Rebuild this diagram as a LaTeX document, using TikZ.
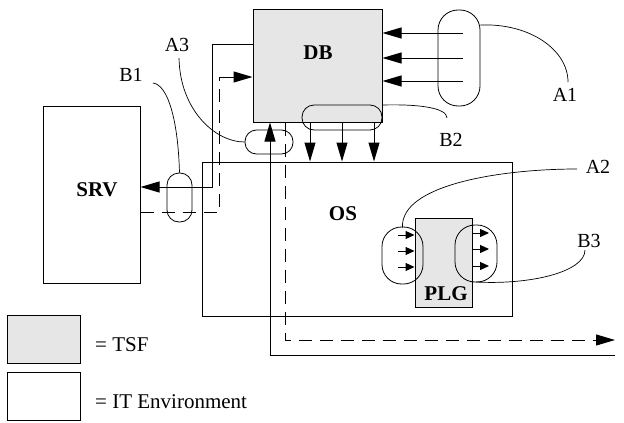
\documentclass[tikz,border=0pt]{standalone}
\usepackage{fontspec}
\setmainfont{Liberation Serif}
\usetikzlibrary{arrows.meta,calc}
\definecolor{tsfgray}{HTML}{E6E6E6}
\tikzset{
  box/.style={draw, line width=1pt, inner sep=0pt},
  tsfbox/.style={box, fill=tsfgray},
  pill/.style={draw, line width=0.8pt, inner sep=0pt},
  lbl/.style={font=\fontsize{20}{22}\selectfont, inner sep=0pt},
  blbl/.style={font=\fontsize{21}{23}\selectfont\bfseries, inner sep=0pt},
  conn/.style={line width=1pt},
  dconn/.style={line width=1pt, dash pattern=on 13pt off 8pt},
  arr/.style={-{Triangle[length=19pt,width=11pt]}},
  sarr/.style={-{Triangle[length=9pt,width=8pt]}},
  leader/.style={line width=0.7pt},
}
\begin{document}
\begin{tikzpicture}[x=1pt,y=-1pt]
\useasboundingbox (0,0) rectangle (624,423);
% boxes
\node[box, minimum width=310pt, minimum height=154pt] (os) at (357,239) {};
\node[tsfbox, minimum width=129pt, minimum height=113pt] (db) at (317.5,65.5) {};
\node[box, minimum width=97pt, minimum height=177pt] (srv) at (91.5,194.5) {};
\node[tsfbox, minimum width=57pt, minimum height=89pt] (plg) at (443.5,262.5) {};
\node[blbl] (dbl) at (318,53) {DB};
\node[blbl] (srvl) at (97,190) {SRV};
\node[blbl] (osl) at (343,214) {OS};
\node[blbl] (plgl) at (446,294) {PLG};
% legend
\node[tsfbox, minimum width=73pt, minimum height=48pt] (lt) at (43.5,339) {};
\node[box, minimum width=73pt, minimum height=48pt] (li) at (43.5,396) {};
\node[lbl, anchor=west, font=\fontsize{21}{23}\selectfont] (ltt) at (95,345) {= TSF};
\node[lbl, anchor=west, font=\fontsize{21}{23}\selectfont] (lit) at (95,402) {= IT Environment};
% connectors
\draw[conn, arr] (db.west |- 0,44) -- (212,44) -- (212,187) -- (srv.east |- 0,187);
\draw[dconn] (srv.east |- 0,212) -- (219,212) -- (219,77);
\draw[conn, arr] (219,77) -- (db.west |- 0,77);
\foreach \yy in {33,58,81} {
  \draw[conn, arr] (463,\yy) -- (db.east |- 0,\yy);
}
\foreach \xx in {310,342,374} {
  \draw[conn, arr] (db.south -| \xx,0) -- (os.north -| \xx,0);
}
\coordinate (outs) at (615,355);
\coordinate (outd) at (615,340);
\draw[conn, arr] (outs) -- (270,355) -- (db.south -| 270,0);
\draw[dconn, arr] (db.south -| 285,0) -- (285,340) -- (outd);
\foreach \yy in {235,251,267} {
  \draw[conn, sarr] (398,\yy) -- (plg.west |- 0,\yy);
}
\foreach \yy in {233,249,266} {
  \draw[conn, sarr] (plg.east |- 0,\yy) -- (489,\yy);
}
% pills
\node[pill, minimum width=42pt, minimum height=96pt, rounded corners=20pt] (a1p) at (459,58) {};
\node[pill, minimum width=80pt, minimum height=25pt, rounded corners=12pt] (b2p) at (342,117.5) {};
\node[pill, minimum width=48pt, minimum height=24pt, rounded corners=11.5pt] (a3p) at (269,142) {};
\node[pill, minimum width=25pt, minimum height=49pt, rounded corners=12pt] (b1p) at (179.5,197.5) {};
\node[pill, minimum width=41pt, minimum height=57pt, rounded corners=19.5pt] (a2p) at (402.5,255.5) {};
\node[pill, minimum width=42pt, minimum height=57pt, rounded corners=20pt] (b3p) at (476,253.5) {};
% labels
\node[lbl] (a1) at (565,95) {A1};
\node[lbl] (a3) at (177,45) {A3};
\node[lbl] (b1) at (131,75) {B1};
\node[lbl] (b2) at (451,140) {B2};
\node[lbl] (a2) at (598,167) {A2};
\node[lbl] (b3) at (589,241) {B3};
% leaders
\coordinate (a1e) at (568,82);
\coordinate (a3e) at (179,58);
\coordinate (b1e) at (153,83);
\coordinate (b2e) at (447,118);
\coordinate (a2e) at (577,169);
\coordinate (b3e) at (585,250);
\draw[leader] (a1p.north east |- 0,25) .. controls (530,23) and (568,50) .. (a1e);
\draw[leader] (a3e) .. controls (180,110) and (215,142) .. (a3p.west);
\draw[leader] (b1e) .. controls (168,85) and (178,120) .. (b1p.north);
\draw[leader] (b2p.north east |- 0,105) .. controls (420,104) and (447,108) .. (b2e);
\draw[leader] (a2p.north |- 0,227.5) .. controls (400,185) and (500,169) .. (a2e);
\draw[leader] (b3p.south |- 0,282) .. controls (530,285) and (585,272) .. (b3e);
\end{tikzpicture}
\end{document}
